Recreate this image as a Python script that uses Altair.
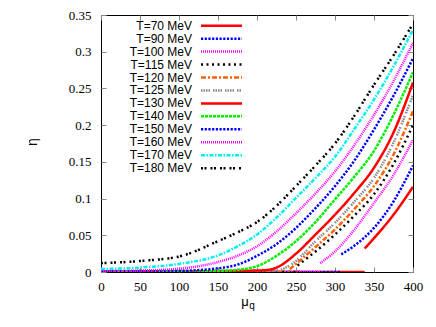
import altair as alt
import pandas as pd

series = ["T=70 MeV", "T=90 MeV", "T=100 MeV", "T=115 MeV", "T=120 MeV", "T=125 MeV",
          "T=130 MeV", "T=140 MeV", "T=150 MeV", "T=160 MeV", "T=170 MeV", "T=180 MeV"]
colors = ["#ff0000", "#0000ff", "#ff00ff", "#000000", "#ff6000", "#888888",
          "#ff0000", "#00f000", "#0000ff", "#ff00ff", "#00f0f0", "#000000"]
dashes = [[1, 0], [2.2, 1.5], [1, 1], [2, 3.5], [5, 2, 2, 2], [1.5, 1, 1.5, 1, 1.5, 1, 1.5, 3],
          [1, 0], [3, 1], [2.2, 1.5], [1, 1], [4, 1.5, 1.5, 1.5], [2, 1.5, 2, 4]]

# each series: list of segments (mu list, eta list)
curves = {
    "T=70 MeV": [([0, 100, 200, 300, 338], [0, 0, 0, 0, 0]),
                 ([338, 350, 375, 400], [0.032, 0.046, 0.078, 0.116])],
    "T=90 MeV": [([0, 100, 200, 300, 308], [0, 0, 0, 0, 0]),
                 ([308, 325, 350, 375, 400], [0.024, 0.036, 0.060, 0.096, 0.145])],
    "T=100 MeV": [([0, 100, 200, 281], [0, 0, 0, 0]),
                  ([281, 300, 325, 350, 375, 400], [0.012, 0.028, 0.058, 0.094, 0.132, 0.18])],
    "T=115 MeV": [([0, 100, 200, 252], [0, 0, 0, 0]),
                  ([252, 275, 300, 325, 350, 375, 400], [0.009, 0.028, 0.051, 0.077, 0.106, 0.147, 0.2])],
    "T=120 MeV": [([0, 100, 200, 242], [0, 0, 0, 0]),
                  ([242, 250, 275, 300, 325, 350, 375, 400], [0.004, 0.011, 0.034, 0.058, 0.086, 0.117, 0.16, 0.219])],
    "T=125 MeV": [([0, 100, 200, 225, 235, 250, 275, 300, 325, 350, 375, 400],
                   [0.0005, 0.0008, 0.001, 0.002, 0.005, 0.015, 0.042, 0.067, 0.096, 0.128, 0.176, 0.241])],
    "T=130 MeV": [([0, 100, 200, 215, 225, 250, 275, 300, 325, 350, 375, 400],
                   [0.001, 0.001, 0.002, 0.003, 0.006, 0.025, 0.051, 0.078, 0.108, 0.142, 0.19, 0.258])],
    "T=140 MeV": [([0, 50, 100, 150, 175, 200, 225, 250, 275, 300, 325, 350, 375, 400],
                   [0.0002, 0.0003, 0.0006, 0.0015, 0.003, 0.008, 0.022, 0.042, 0.068, 0.099, 0.13, 0.165, 0.214, 0.272])],
    "T=150 MeV": [([0, 50, 100, 150, 175, 200, 225, 250, 275, 300, 325, 350, 375, 400],
                   [0.0005, 0.001, 0.0015, 0.005, 0.01, 0.022, 0.038, 0.06, 0.087, 0.117, 0.152, 0.194, 0.24, 0.291])],
    "T=160 MeV": [([0, 50, 100, 150, 175, 200, 225, 250, 275, 300, 325, 350, 375, 400],
                   [0.001, 0.002, 0.0045, 0.0136, 0.022, 0.035, 0.055, 0.08, 0.107, 0.137, 0.173, 0.214, 0.26, 0.312])],
    "T=170 MeV": [([0, 50, 100, 150, 175, 200, 225, 250, 275, 300, 325, 350, 375, 400],
                   [0.004, 0.006, 0.011, 0.0226, 0.035, 0.051, 0.074, 0.101, 0.128, 0.157, 0.195, 0.235, 0.28, 0.33])],
    "T=180 MeV": [([0, 50, 100, 150, 175, 200, 225, 250, 275, 300, 325, 350, 375, 400],
                   [0.012, 0.015, 0.021, 0.042, 0.054, 0.068, 0.09, 0.117, 0.145, 0.175, 0.213, 0.255, 0.295, 0.338])],
}

x_ticks = [0, 50, 100, 150, 200, 250, 300, 350, 400]
y_ticks = [0, 0.05, 0.1, 0.15, 0.2, 0.25, 0.3, 0.35]

rows = []
for si, name in enumerate(series):
    for gi, (mus, etas) in enumerate(curves[name]):
        for m, e in zip(mus, etas):
            rows.append({"T": name, "key": f"{si:02d}-{gi}", "mu": m, "eta": e, "o": si})
df = pd.DataFrame(rows)

leg = pd.DataFrame({"T": series, "ly": [10.7 + 12.95 * i for i in range(len(series))]})

W, H = 312, 257
serif = "Times New Roman, Liberation Serif, DejaVu Serif, serif"
sans = "Liberation Sans"

color_enc = alt.Color("T:N", scale=alt.Scale(domain=series, range=colors), legend=None)
dash_enc = alt.StrokeDash("T:N", scale=alt.Scale(domain=series, range=dashes), legend=None)

xscale = alt.Scale(domain=[0, 400], nice=False, zero=False)
yscale = alt.Scale(domain=[0, 0.35], nice=False, zero=False)

lines = alt.Chart(df).mark_line(strokeWidth=2.5, interpolate="monotone", clip=True).encode(
    x=alt.X("mu:Q", scale=xscale,
            axis=alt.Axis(values=x_ticks, offset=-5, tickSize=5, tickColor="#888888", domain=False,
                          grid=False, labelFont=serif, labelFontSize=13, labelColor="black",
                          labelPadding=8, labelFlush=False, labelOverlap=False, title=None)),
    y=alt.Y("eta:Q", scale=yscale,
            axis=alt.Axis(values=y_ticks, offset=-5, tickSize=5, tickColor="#888888", domain=False,
                          grid=False, labelFont=serif, labelFontSize=13, labelColor="black",
                          labelPadding=10, labelFlush=False, labelOverlap=False, title=None,
                          format="~g")),
    color=color_enc,
    strokeDash=dash_enc,
    detail="key:N",
    order="o:Q",
)

mirror = alt.Chart(df).mark_point(opacity=0).encode(
    x=alt.X("mu:Q", scale=xscale,
            axis=alt.Axis(orient="top", values=x_ticks, offset=-5, tickSize=5, tickColor="#888888",
                          domain=False, grid=False, labels=False, title=None)),
    y=alt.Y("eta:Q", scale=yscale,
            axis=alt.Axis(orient="right", values=y_ticks, offset=-5, tickSize=5, tickColor="#888888",
                          domain=False, grid=False, labels=False, title=None)),
)

leg_text = alt.Chart(leg).mark_text(align="right", baseline="middle", font=sans, fontSize=12,
                                    color="black").encode(
    x=alt.value(91), y=alt.Y("ly:Q", scale=None), text="T:N")
leg_rule = alt.Chart(leg).mark_rule(strokeWidth=2.5).encode(
    x=alt.value(100), x2=alt.value(141), y=alt.Y("ly:Q", scale=None),
    color=color_enc, strokeDash=dash_enc)

titles = pd.DataFrame({"t": ["μ", "q", "η"]})
mu_t = alt.Chart(titles[titles.t == "μ"]).mark_text(font=sans, fontSize=13, align="center",
                                                     baseline="alphabetic").encode(
    x=alt.value(144), y=alt.value(291), text="t:N")
q_t = alt.Chart(titles[titles.t == "q"]).mark_text(font=sans, fontSize=10, align="center",
                                                    baseline="alphabetic").encode(
    x=alt.value(151), y=alt.value(294), text="t:N")
eta_t = alt.Chart(titles[titles.t == "η"]).mark_text(font=sans, fontSize=14, align="center",
                                                      baseline="middle", angle=270).encode(
    x=alt.value(-68), y=alt.value(127), text="t:N")

chart = alt.layer(lines, mirror, leg_rule, leg_text, mu_t, q_t, eta_t).resolve_axis(
    x="independent", y="independent"
).properties(
    width=W, height=H,
    autosize=alt.AutoSizeParams(type="none"),
    padding={"left": 93, "top": 7, "right": 12, "bottom": 45},
).configure(
    background="white",
    view=alt.ViewConfig(stroke="black", strokeWidth=1),
    axis=alt.AxisConfig(labelFont=serif, labelFontSize=13),
)

chart.save("out.html", embed_options={"renderer": "svg", "actions": False})
